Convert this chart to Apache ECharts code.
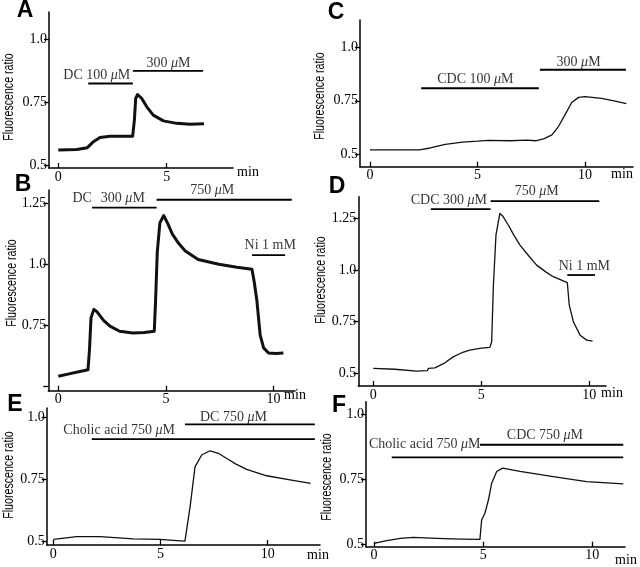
<!DOCTYPE html>
<html><head><meta charset="utf-8">
<script src="https://cdn.jsdelivr.net/npm/echarts@6/dist/echarts.min.js"></script>
<style>html,body{margin:0;padding:0;background:#fff}#c{width:640px;height:567px}</style>
</head><body><div id="c"></div>
<script>
// ---- traces: [time (min), fluorescence ratio] ----
const traceA = [[0,0.56],[0.85,0.562],[1.34,0.569],[1.62,0.593],[1.92,0.61],[2.38,0.615],[3.0,0.615],[3.43,0.615],[3.51,0.679],[3.57,0.765],[3.66,0.781],[3.85,0.765],[4.08,0.732],[4.38,0.699],[4.85,0.676],[5.46,0.666],[6.08,0.662],[6.72,0.664]];
const traceB = [[0,0.54],[0.5,0.55],[1.0,0.56],[1.38,0.567],[1.45,0.65],[1.52,0.78],[1.65,0.815],[1.8,0.805],[2.1,0.77],[2.4,0.746],[2.85,0.725],[3.46,0.718],[4.0,0.72],[4.46,0.725],[4.52,0.85],[4.6,1.05],[4.72,1.17],[4.9,1.2],[5.1,1.165],[5.3,1.124],[5.6,1.085],[5.9,1.055],[6.5,1.02],[7.46,1.0],[8.3,0.988],[9.0,0.98],[9.1,0.93],[9.23,0.85],[9.38,0.71],[9.54,0.657],[9.77,0.636],[10.1,0.634],[10.46,0.636]];
const traceC = [[0,0.519],[1.5,0.519],[2.3,0.519],[2.8,0.528],[3.5,0.545],[4.3,0.556],[5.0,0.56],[5.5,0.564],[6.5,0.562],[7.3,0.565],[7.7,0.562],[8.1,0.572],[8.46,0.59],[8.77,0.63],[9.08,0.686],[9.38,0.742],[9.7,0.766],[10.0,0.77],[10.77,0.761],[11.4,0.748],[11.92,0.737]];
const traceD = [[0,0.524],[1.0,0.52],[2.0,0.511],[2.5,0.513],[2.55,0.524],[2.85,0.527],[3.3,0.55],[3.7,0.58],[4.1,0.6],[4.47,0.613],[5.0,0.622],[5.4,0.626],[5.48,0.653],[5.56,0.927],[5.68,1.17],[5.86,1.274],[6.0,1.26],[6.25,1.218],[6.5,1.17],[6.79,1.121],[7.2,1.068],[7.56,1.024],[8.0,0.99],[8.33,0.968],[8.98,0.939],[9.07,0.83],[9.26,0.75],[9.57,0.685],[9.88,0.661],[10.15,0.656]];
const traceE = [[0,0.507],[1.09,0.518],[2.18,0.518],[3.73,0.509],[4.98,0.507],[5.6,0.503],[6.14,0.5],[6.38,0.639],[6.61,0.80],[6.92,0.848],[7.31,0.865],[7.7,0.855],[8.09,0.834],[8.5,0.812],[9.02,0.79],[9.95,0.764],[11.04,0.747],[12.0,0.733]];
const traceF = [[0,0.503],[0.58,0.513],[1.2,0.522],[1.8,0.526],[2.87,0.522],[4.0,0.519],[4.85,0.518],[4.93,0.593],[5.08,0.619],[5.24,0.67],[5.39,0.735],[5.62,0.78],[5.89,0.793],[6.69,0.78],[8.21,0.76],[9.74,0.741],[11.42,0.732]];

// ---- application bars: [start, end, level] ----
const barsA = [[1.38,3.44,0.825],[3.44,6.68,0.875]];
const barsB = [[1.57,4.57,1.233],[4.57,10.85,1.265],[9.0,10.54,1.038]];
const barsC = [[2.38,7.85,0.809],[7.9,11.9,0.896]];
const barsD = [[2.67,5.43,1.295],[5.43,10.46,1.334],[8.98,10.26,0.976]];
const barsE = [[1.79,12.2,0.912],[6.14,12.2,0.972]];
const barsF = [[0.81,11.42,0.834],[4.85,11.42,0.883]];

// ---- bar labels: [text, time, level, align] ----
const labelsA = [['DC 100 μM',0.23,0.858,'left'],['300 μM',5.08,0.905,'center']];
const labelsB = [['DC',0.66,1.272,'left'],['300 μM',3.0,1.272,'center'],['750 μM',7.15,1.305,'center'],['Ni 1 mM',9.85,1.076,'center']];
const labelsC = [['CDC 100 μM',4.9,0.853,'center'],['300 μM',9.7,0.933,'center']];
const labelsD = [['CDC 300 μM',3.5,1.339,'center'],['750 μM',7.56,1.379,'center'],['Ni 1 mM',9.77,1.016,'center']];
const labelsE = [['Cholic acid 750 μM',3.07,0.946,'center'],['DC 750 μM',8.4,0.999,'center']];
const labelsF = [['Cholic acid 750 μM',2.32,0.883,'center'],['CDC 750 μM',7.83,0.921,'center']];

// ---- ticks ----
const yTicksA = [0.5,0.75,1.0], yTickLabelsA = ['0.5','0.75','1.0'];
const yTicksB = [0.5,0.75,1.0,1.25], yTickLabelsB = ['','0.75','1.0','1.25'];
const yTicksC = [0.5,0.75,1.0], yTickLabelsC = ['0.5','0.75','1.0'];
const yTicksD = [0.5,0.75,1.0,1.25], yTickLabelsD = ['0.5','0.75','1.0','1.25'];
const yTicksE = [0.5,0.75,1.0], yTickLabelsE = ['0.5','0.75','1.0'];
const yTicksF = [0.5,0.75,1.0], yTickLabelsF = ['0.5','0.75','1.0'];
const xTicksA = [0,5];
const xTicksB = [0,5,10];
const xTicksC = [0,5,10];
const xTicksD = [0,5,10];
const xTicksE = [0,5,10];
const xTicksF = [0,5,10];

const serif = '"Liberation Serif","Times New Roman",serif';
const sans = '"Liberation Sans",Arial,sans-serif';

const panels = [
  {L:'A', trace:traceA, bars:barsA, labels:labelsA, yt:yTicksA, ytl:yTickLabelsA, xt:xTicksA, lw:3,
   grid:{left:49,top:12,width:184,height:156}, x:[-0.43,8.06], y:[0.488,1.11],
   letter:[25,11], yname:[9,97], minPos:[248,172]},
  {L:'B', trace:traceB, bars:barsB, labels:labelsB, yt:yTicksB, ytl:yTickLabelsB, xt:xTicksB, lw:3,
   grid:{left:48.3,top:190,width:246.7,height:200.7}, x:[-0.465,11.0], y:[0.481,1.305],
   letter:[23,185], yname:[12,283], minPos:[295,395]},
  {L:'C', trace:traceC, bars:barsC, labels:labelsC, yt:yTicksC, ytl:yTickLabelsC, xt:xTicksC, lw:1.3,
   grid:{left:360,top:20,width:273,height:146.7}, x:[-0.465,12.23], y:[0.44,1.13],
   letter:[336,13], yname:[320,96], minPos:[622,174]},
  {L:'D', trace:traceD, bars:barsD, labels:labelsD, yt:yTicksD, ytl:yTickLabelsD, xt:xTicksD, lw:1.3,
   grid:{left:358.3,top:196.7,width:247.7,height:189.3}, x:[-0.69,10.77], y:[0.439,1.355],
   letter:[337,187], yname:[321,280], minPos:[612,393]},
  {L:'E', trace:traceE, bars:barsE, labels:labelsE, yt:yTicksE, ytl:yTickLabelsE, xt:xTicksE, lw:1.3,
   grid:{left:46.7,top:408,width:273.3,height:137}, x:[-0.31,12.44], y:[0.484,1.038],
   letter:[15,405], yname:[9,475], minPos:[318,555]},
  {L:'F', trace:traceF, bars:barsF, labels:labelsF, yt:yTicksF, ytl:yTickLabelsF, xt:xTicksF, lw:1.3,
   grid:{left:366,top:401.7,width:259,height:145}, x:[-0.37,11.5], y:[0.49,1.049],
   letter:[339,406], yname:[327,477], minPos:[626,560]}
];

const grid=[], xAxis=[], yAxis=[], series=[], graphic=[];
panels.forEach((p,i)=>{
  grid.push(Object.assign({containLabel:false}, p.grid));
  xAxis.push({type:'value', gridIndex:i, min:p.x[0], max:p.x[1],
    axisLine:{onZero:false, lineStyle:{color:'#000',width:1.5}},
    axisTick:{inside:true, length:5, customValues:p.xt, lineStyle:{color:'#000',width:1.3}},
    axisLabel:{customValues:p.xt, margin:2, color:'#000', fontFamily:serif, fontSize:14},
    splitLine:{show:false}});
  yAxis.push({type:'value', gridIndex:i, min:p.y[0], max:p.y[1],
    axisLine:{show:true, onZero:false, lineStyle:{color:'#000',width:1.5}},
    axisTick:{show:true, inside:false, length:5, customValues:p.yt, lineStyle:{color:'#000',width:1.3}},
    axisLabel:{customValues:p.yt, margin:2, color:'#000', fontFamily:serif, fontSize:14,
      formatter:(v)=>{const k=p.yt.indexOf(v); return k>=0?p.ytl[k]:'';}},
    splitLine:{show:false}});
  series.push({type:'line', xAxisIndex:i, yAxisIndex:i, data:p.trace, showSymbol:false, symbol:'none',
    lineStyle:{color:'#111', width:p.lw, join:'round'}, clip:false, silent:true, animation:false, z:3});
  p.bars.forEach(b=>{
    series.push({type:'line', xAxisIndex:i, yAxisIndex:i, data:[[b[0],b[2]],[b[1],b[2]]], symbol:'none',
      lineStyle:{color:'#000', width:1.8}, clip:false, silent:true, animation:false});
  });
  series.push({type:'scatter', xAxisIndex:i, yAxisIndex:i, symbolSize:0, clip:false, silent:true, animation:false,
    data:p.labels.map(l=>({value:[l[1],l[2]], name:l[0], label:{align:l[3]}})),
    label:{show:true, position:[0,0], verticalAlign:'middle', color:'#000', fontFamily:serif, fontSize:14,
      formatter:(d)=>d.name.replace('μ','{i|μ}'),
      rich:{i:{fontStyle:'italic', fontFamily:serif, fontSize:14, color:'#000'}}}});
  graphic.push({type:'text', x:p.letter[0], y:p.letter[1],
    style:{text:p.L, font:'bold 23px '+sans, fill:'#000', textAlign:'center', textVerticalAlign:'middle'}});
  graphic.push({type:'text', x:p.yname[0], y:p.yname[1], rotation:Math.PI/2, scaleX:0.76, scaleY:1,
    style:{text:'Fluorescence ratio', font:'14px '+sans, fill:'#000', textAlign:'center', textVerticalAlign:'middle'}});
  graphic.push({type:'text', x:p.minPos[0], y:p.minPos[1],
    style:{text:'min', font:'14px '+serif, fill:'#000', textAlign:'center', textVerticalAlign:'middle'}});
});

const chart = echarts.init(document.getElementById('c'), null, {renderer:'canvas'});
chart.setOption({animation:false, backgroundColor:'#fff', grid, xAxis, yAxis, series, graphic});
</script></body></html>
